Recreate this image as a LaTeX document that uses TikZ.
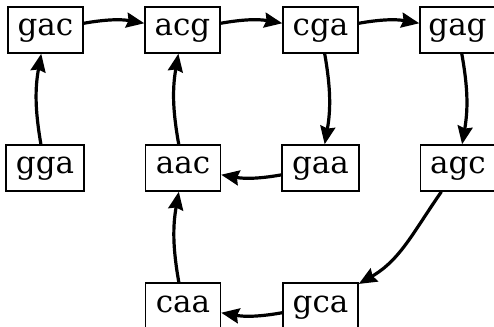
\documentclass[tikz,border=0pt]{standalone}
\usepackage{fontspec}
\setmainfont{DejaVu Serif}
\usetikzlibrary{arrows.meta}
\begin{document}
\begin{tikzpicture}[x=1pt,y=1pt,
  kbox/.style={draw=black, line width=1.4pt, fill=white, minimum width=75pt, minimum height=46pt,
    inner xsep=0pt, inner ysep=0pt, text height=19pt, text depth=7pt,
    font=\fontsize{31}{34}\selectfont},
  link/.style={line width=3.2pt, -{Stealth[length=18pt,width=15pt,inset=2pt]}}]
\useasboundingbox (0,0) rectangle (494,326);
\clip (0,0) rectangle (494,326);
\fill[white] (0,0) rectangle (494,326);
\node[kbox] (gac) at (45.5,296) {gac};
\node[kbox] (acg) at (182.5,296) {acg};
\node[kbox] (cga) at (320.5,296) {cga};
\node[kbox] (gag) at (457.5,296) {gag};
\node[kbox, minimum width=78pt] (gga) at (45,158) {gga};
\node[kbox] (aac) at (183,158) {aac};
\node[kbox, minimum width=77pt] (gaa) at (320.5,158) {gaa};
\node[kbox] (agc) at (458,158) {agc};
\node[kbox] (caa) at (183,20) {caa};
\node[kbox] (gca) at (320.5,20) {gca};
\draw[link] (gac) to[bend left=10] (acg);
\draw[link] (acg) to[bend left=10] (cga);
\draw[link] (cga) to[bend left=10] (gag);
\draw[link] (gga) to[bend left=10] (gac);
\draw[link] (aac) to[bend left=10] (acg);
\draw[link] (cga) to[bend left=10] (gaa);
\draw[link] (gag) to[bend left=10] (agc);
\draw[link] (gaa) to[bend left=10] (aac);
\draw[link] (agc) to[out=235, in=30] (gca);
\draw[link] (caa) to[bend left=10] (aac);
\draw[link] (gca) to[bend left=10] (caa);
\end{tikzpicture}
\end{document}
